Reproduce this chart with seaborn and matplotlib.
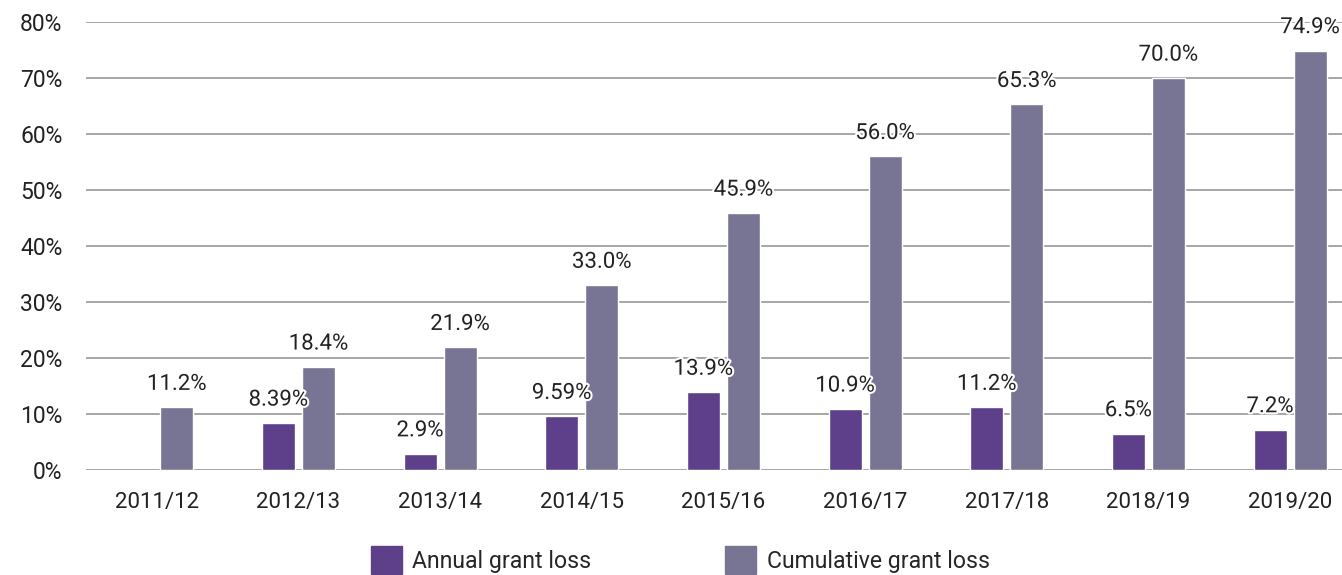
import numpy as np
import pandas as pd
import matplotlib.pyplot as plt
import matplotlib.patheffects as pe
import seaborn as sns

years = ['2011/12', '2012/13', '2013/14', '2014/15', '2015/16',
         '2016/17', '2017/18', '2018/19', '2019/20']
annual = [np.nan, 8.39, 2.9, 9.59, 13.9, 10.9, 11.2, 6.5, 7.2]
cumulative = [11.2, 18.4, 21.9, 33.0, 45.9, 56.0, 65.3, 70.0, 74.9]
annual_labels = ['', '8.39%', '2.9%', '9.59%', '13.9%', '10.9%', '11.2%', '6.5%', '7.2%']
cumulative_labels = ['11.2%', '18.4%', '21.9%', '33.0%', '45.9%', '56.0%', '65.3%', '70.0%', '74.9%']
series = ['Annual grant loss', 'Cumulative grant loss']
colors = ['#5d3f8a', '#787594']

rows = []
for i, y in enumerate(years):
    if not np.isnan(annual[i]):
        rows.append({'year': y, 'series': series[0], 'value': annual[i]})
    rows.append({'year': y, 'series': series[1], 'value': cumulative[i]})
df = pd.DataFrame(rows)

sns.set_style('white')
plt.rcParams['font.family'] = ['Roboto', 'DejaVu Sans']

fig = plt.figure(figsize=(13.42, 5.75), dpi=100)
ax = fig.add_axes([86 / 1342, 1 - 470 / 575, 1275 / 1342, 448 / 575])

sns.barplot(data=df, x='year', y='value', hue='series', order=years,
            hue_order=series, palette=colors, width=0.565, gap=0.175,
            saturation=1, ax=ax, legend=False, zorder=2)

ax.set_ylim(0, 80)
ax.set_xlim(-0.5, len(years) - 0.5)
ax.set_yticks(range(0, 81, 10))
ax.set_yticklabels([f'{v}%' for v in range(0, 81, 10)])
ax.yaxis.grid(True, color='#a6a6a6', linewidth=1.4)
ax.set_axisbelow(True)
for s in ax.spines.values():
    s.set_visible(False)
ax.tick_params(axis='y', length=0, pad=17, labelsize=16.5, labelcolor='#222222')
ax.tick_params(axis='x', length=0, pad=16, labelsize=16, labelcolor='#222222')
ax.set_xlabel('')
ax.set_ylabel('')

halo = [pe.withStroke(linewidth=3, foreground='white')]
for container, labels in zip(ax.containers, [annual_labels, cumulative_labels]):
    labs = [l for l in labels if l] if len(container) < len(labels) else labels
    for bar, lab in zip(container, labs):
        h = bar.get_height()
        if np.isnan(h) or not lab:
            continue
        ax.annotate(lab, (bar.get_x() + bar.get_width() / 2, h),
                    xytext=(0, 16.5), textcoords='offset points',
                    ha='center', va='center', fontsize=16, color='#222222',
                    path_effects=halo, zorder=4, annotation_clip=False)

handles = [plt.Rectangle((0, 0), 1, 1, color=c) for c in colors]
fig.legend(handles, series, loc='center', bbox_to_anchor=(0.507, 0.026),
           ncol=2, frameon=False, fontsize=16.6, handlelength=1.35,
           handleheight=1.45, handletextpad=0.45, columnspacing=5.8)

plt.savefig('out.png', dpi=100)
